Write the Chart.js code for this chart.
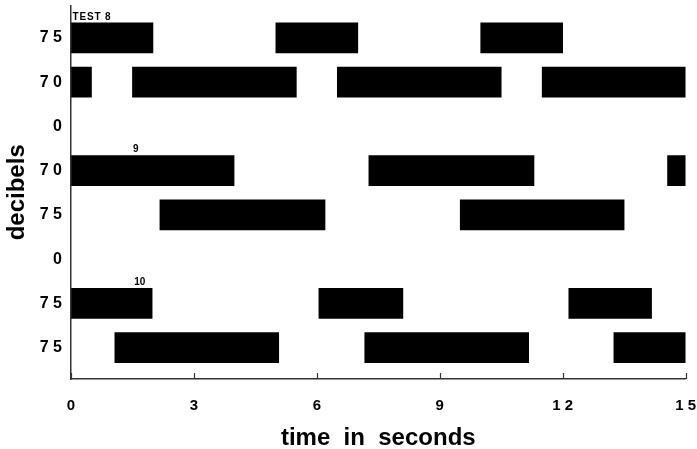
<!DOCTYPE html>
<html>
<head>
<meta charset="utf-8">
<script src="https://cdn.jsdelivr.net/npm/chart.js@4/dist/chart.umd.min.js"></script>
<style>
    html, body { margin: 0; padding: 0; background: #fff; }
    #wrap { width: 697px; height: 449px; }
</style>
</head>
<body>
<div id="wrap"><canvas id="chart" width="697" height="449"></canvas></div>
<script>
/* Row labels (decibels), top to bottom */
const rowLabels = ['75', '70', '0', '70', '75', '0', '75', '75'];

/* On-intervals for each row, [start, end] in seconds */
const row1 = [[0, 2], [5, 7], [10, 12]];
const row2 = [[0, 0.5], [1.5, 5.5], [6.5, 10.5], [11.5, 15]];
const row3 = [];
const row4 = [[0, 3.98], [7.27, 11.3], [14.56, 15]];
const row5 = [[2.17, 6.2], [9.5, 13.5]];
const row6 = [];
const row7 = [[0, 1.98], [6.05, 8.1], [12.15, 14.17]];
const row8 = [[1.07, 5.07], [7.17, 11.17], [13.25, 15]];
const rows = [row1, row2, row3, row4, row5, row6, row7, row8];

/* Test labels written above the bars: text, row index, time */
const noteTexts = ['TEST 8', '9', '10'];
const noteRows = [0, 3, 6];
const noteTimes = [0.5, 1.58, 1.68];

/* x axis ticks */
const timeTicks = [0, 3, 6, 9, 12, 15];

const FONT = "'Liberation Sans', Arial, Helvetica, sans-serif";

/* spread digits a little like the typed labels */
function spaced(s) {
    return String(s).split('').join(' ');
}

/* flatten rows into floating bar points */
function buildBars() {
    const out = [];
    rows.forEach((segs, i) => {
        segs.forEach(s => out.push({ y: i, x: s }));
    });
    return out;
}

/* small tick marks pointing up into the plot, plus the test labels */
const extras = {
    id: 'extras',
    afterDatasetsDraw(chart) {
        const ctx = chart.ctx;
        const xs = chart.scales.x;
        const ys = chart.scales.y;
        ctx.save();
        ctx.strokeStyle = '#333';
        ctx.lineWidth = 1.2;
        timeTicks.forEach(t => {
            const px = Math.round(xs.getPixelForValue(t)) + 0.5;
            ctx.beginPath();
            ctx.moveTo(px, ys.bottom);
            ctx.lineTo(px, ys.bottom - 6);
            ctx.stroke();
        });
        ctx.fillStyle = '#000';
        ctx.font = 'bold 10px ' + FONT;
        ctx.textAlign = 'center';
        ctx.textBaseline = 'bottom';
        noteTexts.forEach((txt, i) => {
            const px = xs.getPixelForValue(noteTimes[i]);
            const py = ys.getPixelForValue(noteRows[i]) - 15 - 1;
            const label = i === 0 ? txt.split('').join('\u200a') : txt;
            ctx.fillText(label, px, py);
        });
        ctx.restore();
    }
};

function init() {
    const ctx = document.getElementById('chart').getContext('2d');
    new Chart(ctx, {
        type: 'bar',
        data: {
            datasets: [{
                data: buildBars(),
                backgroundColor: '#000',
                borderWidth: 0,
                barThickness: 30
            }]
        },
        options: {
            indexAxis: 'y',
            responsive: false,
            animation: false,
            devicePixelRatio: 1,
            layout: { padding: { top: 5, right: 11, left: 0, bottom: 0 } },
            plugins: {
                legend: { display: false },
                tooltip: { enabled: false }
            },
            scales: {
                x: {
                    type: 'linear',
                    min: 0,
                    max: 15,
                    offset: false,
                    afterBuildTicks: s => { s.ticks = timeTicks.map(v => ({ value: v })); },
                    afterFit: s => { s.height = 70; },
                    grid: { drawOnChartArea: false, drawTicks: true, tickLength: 17, tickColor: 'rgba(0,0,0,0)' },
                    border: { color: '#333', width: 1.5 },
                    ticks: {
                        color: '#000',
                        padding: 1,
                        font: { family: FONT, size: 15, weight: 'bold' },
                        callback: v => spaced(v)
                    },
                    title: {
                        display: true,
                        text: 'time  in  seconds',
                        color: '#000',
                        padding: { top: 0, bottom: 0 },
                        font: { family: FONT, size: 24, weight: 'bold', lineHeight: 0.9 }
                    }
                },
                y: {
                    type: 'linear',
                    reverse: true,
                    offset: false,
                    min: -0.73,
                    max: 7.71,
                    afterBuildTicks: s => { s.ticks = rowLabels.map((_, i) => ({ value: i })); },
                    afterFit: s => { s.width = 71; },
                    grid: { drawOnChartArea: false, drawTicks: true, tickLength: 9, tickColor: 'rgba(0,0,0,0)' },
                    border: { color: '#333', width: 1.5 },
                    ticks: {
                        color: '#000',
                        padding: 0,
                        font: { family: FONT, size: 16, weight: 'bold', lineHeight: 0.7 },
                        callback: v => spaced(rowLabels[v])
                    },
                    title: {
                        display: true,
                        text: 'decibels',
                        color: '#000',
                        padding: { top: 4, bottom: 0 },
                        font: { family: FONT, size: 24, weight: 'bold', lineHeight: 1.1 }
                    }
                }
            }
        },
        plugins: [extras]
    });
}

window.addEventListener('load', init);
</script>
</body>
</html>
